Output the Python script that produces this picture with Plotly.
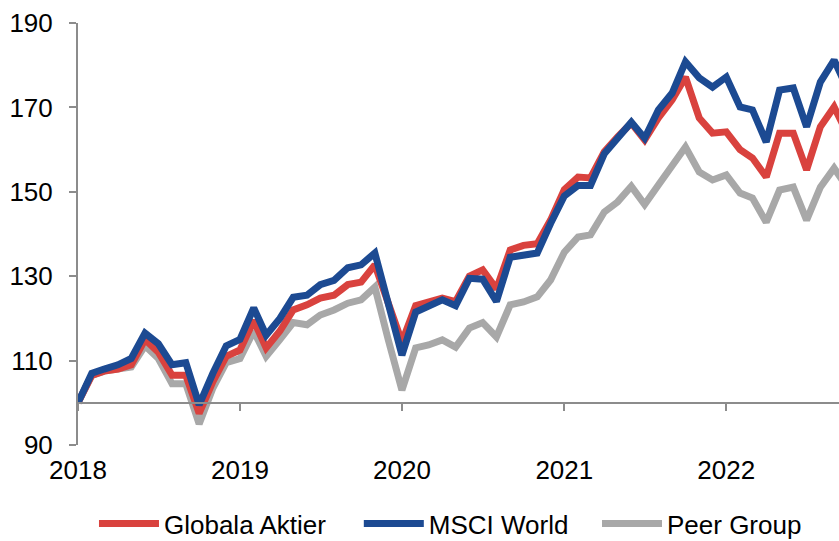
import pandas as pd
import plotly.graph_objects as go

# Monthly index values (start = 100)
globala_aktier = [100, 106.5, 107.5, 108, 109, 115, 112, 106.5, 106.5, 97.5,
                  105, 111, 112.5, 119.5, 113, 117, 122, 123.2, 124.8, 125.5,
                  128, 128.6, 132.7, 124, 114.4, 123, 124, 124.8, 124, 130,
                  131.5, 127, 136.2, 137.3, 137.7, 143.3, 150.5, 153.5, 153.3, 159.5,
                  163, 166.3, 162.3, 167.5, 171.8, 177.2, 167.5, 163.9, 164.2, 160,
                  158, 153.5, 163.9, 163.9, 155.2, 165.4, 170.1, 163.7]
msci_world = [100, 107, 108, 109, 110.5, 116.5, 114, 109, 109.5, 99.5,
              107, 113.5, 115, 122.5, 116, 120, 125, 125.5, 128, 129,
              132, 132.7, 135.5, 123.5, 111.3, 121.5, 123, 124.4, 123, 129.5,
              129.3, 124, 134.5, 135, 135.5, 142.5, 149, 151.5, 151.5, 159,
              163, 166.5, 162.7, 169.4, 173.4, 180.8, 177, 174.8, 177.2, 170.1,
              169.4, 161.8, 174.1, 174.6, 165.4, 176, 181.2, 174.4]
peer_group = [100, 106.5, 107.5, 108, 108.5, 113.5, 110.5, 104.5, 104.5, 95,
              103.5, 109.5, 110.5, 117, 111, 115, 119, 118.5, 120.8, 122,
              123.6, 124.4, 127.4, 115, 103, 113, 113.7, 114.9, 113.2, 117.7,
              119, 115.6, 123.2, 123.9, 125.1, 129.1, 135.7, 139.3, 139.8, 145.2,
              147.6, 151.3, 147, 151.6, 155.9, 160.6, 154.7, 152.8, 154, 149.7,
              148.5, 142.8, 150.4, 151.1, 143.3, 151.1, 155.6, 151]

dates = pd.date_range("2018-01-01", periods=len(msci_world), freq="MS")
year_ticks = ["2018-01-01", "2019-01-01", "2020-01-01", "2021-01-01", "2022-01-01"]
y_ticks = [90, 110, 130, 150, 170, 190]

RED = "#D9423E"
BLUE = "#1C4A92"
GRAY = "#A8A8A8"
AXIS = "#8C8C8C"
FONT = "Liberation Sans, Arial, sans-serif"

fig = go.Figure()
fig.add_trace(go.Scatter(x=dates, y=peer_group, name="Peer Group", mode="lines",
                         line=dict(color=GRAY, width=7), legend="legend3"))
fig.add_trace(go.Scatter(x=dates, y=globala_aktier, name="Globala Aktier", mode="lines",
                         line=dict(color=RED, width=7), legend="legend"))
fig.add_trace(go.Scatter(x=dates, y=msci_world, name="MSCI World", mode="lines",
                         line=dict(color=BLUE, width=7), legend="legend2"))

legend_common = dict(orientation="h", xanchor="left", yref="container", y=0.032,
                     yanchor="middle", itemwidth=60, font=dict(size=26),
                     bgcolor="rgba(0,0,0,0)", borderwidth=0)

fig.update_layout(
    width=839, height=541,
    margin=dict(l=78, r=0, t=23, b=96, autoexpand=False),
    paper_bgcolor="white", plot_bgcolor="white",
    font=dict(family=FONT, size=26, color="black"),
    showlegend=True,
    legend=dict(x=0.021, **legend_common),
    legend2=dict(x=0.369, **legend_common),
    legend3=dict(x=0.682, **legend_common),
    xaxis=dict(
        type="date",
        range=["2018-01-01", "2022-09-12"],
        anchor="free", position=0.1,
        showline=True, linecolor=AXIS, linewidth=2,
        ticks="outside", ticklen=7, tickwidth=2, tickcolor=AXIS,
        tickvals=year_ticks, tickformat="%Y",
        ticklabelstandoff=37,
        showgrid=False, zeroline=False, automargin=False,
    ),
    yaxis=dict(
        range=[90, 190],
        tickvals=y_ticks,
        showline=True, linecolor=AXIS, linewidth=2,
        ticks="outside", ticklen=7, tickwidth=2, tickcolor=AXIS,
        ticklabelstandoff=11,
        showgrid=False, zeroline=False, automargin=False,
    ),
)

fig.write_html(
    "out.html",
    config={"displayModeBar": False},
    post_script="document.body.style.margin='0';document.body.style.overflow='hidden';",
)
